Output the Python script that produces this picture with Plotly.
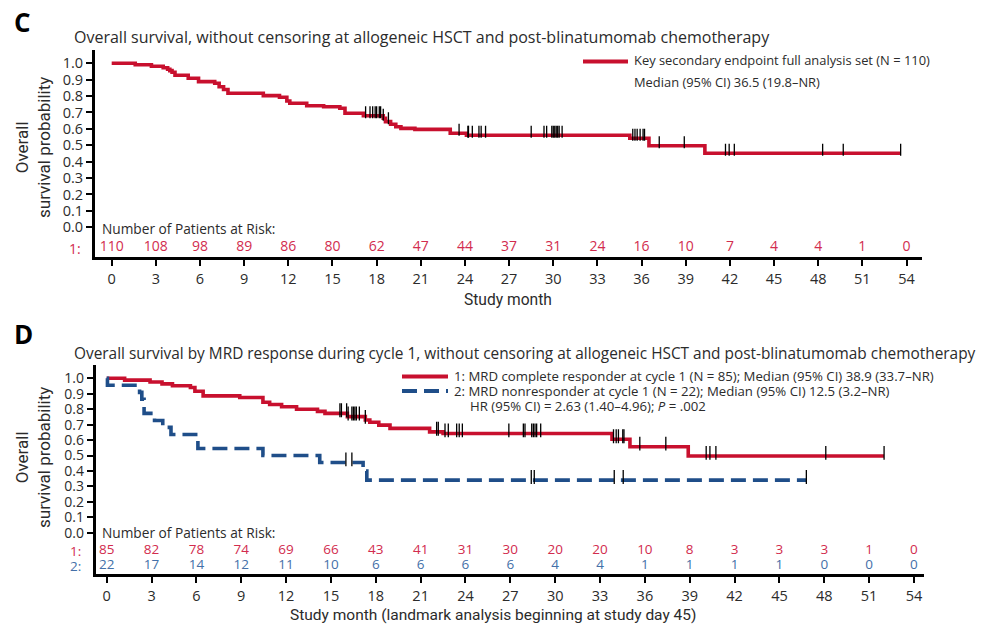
import plotly.graph_objects as go

W, H = 985, 632

RED = "#c8102e"
BLUE = "#1f4e89"
RISK_RED = "#d22c4e"
RISK_BLUE = "#4470a8"
TXT = "#2b2b2b"
FONT = "Open Sans"
COND = "Roboto"

# ---- Panel C: overall survival, full analysis set (Kaplan-Meier steps) ----
c_time = [0, 1.6, 2.7, 3.5, 3.8, 3.95, 4.1, 4.3, 5.2, 5.9,
          7.0, 7.3, 7.6, 7.9, 10.3, 11.4, 11.9, 12.1, 13.25, 14.4,
          15.5, 15.85, 17.1, 18.45, 18.6, 18.95, 19.3, 19.65, 20.6, 23.0,
          24.1, 35.2, 36.5, 40.3, 53.6]
c_surv = [1.0, 0.991, 0.982, 0.973, 0.964, 0.955, 0.945, 0.927, 0.909, 0.888,
          0.878, 0.857, 0.84, 0.817, 0.803, 0.793, 0.77, 0.756, 0.741, 0.735,
          0.726, 0.695, 0.68, 0.665, 0.644, 0.628, 0.613, 0.603, 0.597, 0.573,
          0.561, 0.543, 0.497, 0.451, 0.451]
c_cens = [17.25, 17.55, 17.73, 17.9, 18.0, 18.18, 18.27, 18.45, 18.8,
          23.6, 24.2, 24.24, 24.5, 24.95, 25.1, 25.4, 28.5, 29.37, 29.55,
          29.9, 30.0, 30.1, 30.2, 30.3, 30.4, 30.6, 35.4, 35.55, 35.7, 35.9,
          36.1, 36.2, 37.2, 38.9, 41.7, 41.95, 42.3, 48.3, 49.7, 53.6]

# ---- Panel D: by MRD response during cycle 1 ----
d1_time = [0, 1.2, 2.9, 3.7, 4.4, 5.6, 5.9, 6.45, 8.9, 10.45,
           10.9, 11.7, 12.7, 14.1, 14.6, 16.1, 17.3, 17.6, 18.2, 18.95,
           21.6, 22.5, 33.8, 35.0, 38.9, 52.0]
d1_surv = [1.0, 0.988, 0.976, 0.964, 0.952, 0.94, 0.916, 0.886, 0.876, 0.845,
           0.83, 0.816, 0.8, 0.786, 0.773, 0.752, 0.73, 0.715, 0.697, 0.676,
           0.653, 0.643, 0.605, 0.557, 0.497, 0.497]
d1_cens = [15.6, 15.7, 16.05, 16.15, 16.4, 16.5, 16.6, 16.7, 16.9, 17.3,
           22.07, 22.18, 22.63, 22.85, 23.41, 23.58, 23.79, 26.9, 27.87, 27.98,
           28.43, 28.54, 28.65, 28.76, 29.03, 33.9, 34.08, 34.23, 34.52, 34.6,
           35.66, 37.4, 40.1, 40.35, 40.75, 48.1, 52.0]

d2_time = [0, 0.05, 2.2, 2.35, 2.5, 3.2, 3.75, 4.3, 6.1, 10.45, 14.25, 17.15, 17.4, 46.8]
d2_surv = [1.0, 0.955, 0.909, 0.864, 0.773, 0.727, 0.682, 0.636, 0.545, 0.5,
           0.455, 0.40, 0.341, 0.341]
d2_cens = [16.0, 16.4, 28.4, 28.6, 33.95, 34.55, 46.8]

# ---- Number at risk ----
months = list(range(0, 55, 3))
c_risk = [110, 108, 98, 89, 86, 80, 62, 47, 44, 37, 31, 24, 16, 10, 7, 4, 4, 1, 0]
d1_risk = [85, 82, 78, 74, 69, 66, 43, 41, 31, 30, 20, 20, 10, 8, 3, 3, 3, 1, 0]
d2_risk = [22, 17, 14, 12, 11, 10, 6, 6, 6, 6, 4, 4, 1, 1, 1, 1, 0, 0, 0]

y_ticks = [i / 10 for i in range(11)]


def surv_at(times, survs, t):
    s = survs[0]
    for tt, ss in zip(times, survs):
        if tt <= t + 1e-9:
            s = ss
    return s


def censor_segments(times, survs, cens, below, above):
    xs, ys = [], []
    for t in cens:
        s = surv_at(times, survs, t)
        xs += [t, t, None]
        ys += [s - below, s + above, None]
    return xs, ys


def px(x):
    return x / W


def py(y):
    return 1 - y / H


fig = go.Figure()

# Panel C curve + censor ticks
fig.add_trace(go.Scatter(x=c_time, y=c_surv, mode="lines", line=dict(color=RED, width=3.6, shape="hv"),
                         xaxis="x", yaxis="y", hoverinfo="skip"))
cx, cy = censor_segments(c_time, c_surv, c_cens, 0.015, 0.058)
fig.add_trace(go.Scatter(x=cx, y=cy, mode="lines", line=dict(color="black", width=1.3),
                         xaxis="x", yaxis="y", hoverinfo="skip"))
fig.add_trace(go.Scatter(x=months, y=[-0.126] * len(months), mode="text",
                         text=[str(v) for v in c_risk], textfont=dict(family=FONT, size=14, color=RISK_RED),
                         xaxis="x", yaxis="y", cliponaxis=False, hoverinfo="skip"))

# Panel D curves + censor ticks
fig.add_trace(go.Scatter(x=d1_time, y=d1_surv, mode="lines", line=dict(color=RED, width=3.6, shape="hv"),
                         xaxis="x2", yaxis="y2", hoverinfo="skip"))
fig.add_trace(go.Scatter(x=d2_time, y=d2_surv, mode="lines",
                         line=dict(color=BLUE, width=3.6, shape="hv", dash="15px,7px"),
                         xaxis="x2", yaxis="y2", hoverinfo="skip"))
for t_, s_, c_ in [(d1_time, d1_surv, d1_cens), (d2_time, d2_surv, d2_cens)]:
    dx, dy = censor_segments(t_, s_, c_, 0.025, 0.065)
    fig.add_trace(go.Scatter(x=dx, y=dy, mode="lines", line=dict(color="black", width=1.3),
                             xaxis="x2", yaxis="y2", hoverinfo="skip"))
fig.add_trace(go.Scatter(x=months, y=[-0.115] * len(months), mode="text",
                         text=[str(v) for v in d1_risk], textfont=dict(family=FONT, size=13.5, color=RISK_RED),
                         xaxis="x2", yaxis="y2", cliponaxis=False, hoverinfo="skip"))
fig.add_trace(go.Scatter(x=months, y=[-0.216] * len(months), mode="text",
                         text=[str(v) for v in d2_risk], textfont=dict(family=FONT, size=13.5, color=RISK_BLUE),
                         xaxis="x2", yaxis="y2", cliponaxis=False, hoverinfo="skip"))


def axis_style(size):
    return dict(showline=True, linewidth=3, linecolor="black", ticks="outside", ticklen=6,
                tickwidth=2, tickcolor="black", showgrid=False, zeroline=False,
                tickfont=dict(family=FONT, size=size, color=TXT), fixedrange=True)


fig.update_layout(
    width=W, height=H, autosize=False,
    margin=dict(l=0, r=0, t=0, b=0),
    paper_bgcolor="white", plot_bgcolor="white",
    showlegend=False,
    xaxis=dict(domain=[px(95), px(921.7)], range=[-1.134, 55.03], tickvals=months, anchor="y", **axis_style(14.5)),
    yaxis=dict(domain=[py(257.3), py(50)], range=[-0.183, 1.081], tickvals=y_ticks,
               ticktext=[f"{v:.1f}" for v in y_ticks], anchor="x", **axis_style(14.5)),
    xaxis2=dict(domain=[px(95.7), px(924)], range=[-0.736, 54.67], tickvals=months, anchor="y2", **axis_style(14.5)),
    yaxis2=dict(domain=[py(574.3), py(365)], range=[-0.269, 1.086], tickvals=y_ticks,
                ticktext=[f"{v:.1f}" for v in y_ticks], anchor="x2", **axis_style(14)),
)

ann = []


def text(x, y, s, size=14, color=TXT, family=FONT, xanchor="left", angle=0, bold=False):
    ann.append(dict(x=px(x), y=py(y), xref="paper", yref="paper", text=f"<b>{s}</b>" if bold else s,
                    showarrow=False, xanchor=xanchor, yanchor="middle", textangle=angle,
                    font=dict(family=family, size=size, color=color)))


# Panel C text
text(12, 22, "C", size=26, color="black", bold=True)
text(72, 37, "Overall survival, without censoring at allogeneic HSCT and post-blinatumomab chemotherapy", size=16)
text(632, 60.5, "Key secondary endpoint full analysis set (N = 110)", size=12.9)
text(632, 81.5, "Median (95% CI) 36.5 (19.8–NR)", size=12.9)
text(33, 148, "Overall<br>survival probability", size=17, family=COND, xanchor="center", angle=-90)
text(100, 229, "Number of Patients at Risk:", size=13.7)
text(83, 248, "1:", size=14, color=RISK_RED, xanchor="right")
text(508, 300, "Study month", size=15.6, family=COND, xanchor="center")

# Panel D text
text(12, 334, "D", size=26, color="black", bold=True)
text(72, 353, "Overall survival by MRD response during cycle 1, without censoring at allogeneic HSCT and post-blinatumomab chemotherapy", size=15.4)
text(452, 376, "1: MRD complete responder at cycle 1 (N = 85); Median (95% CI) 38.9 (33.7–NR)", size=13.2)
text(452, 391, "2: MRD nonresponder at cycle 1 (N = 22); Median (95% CI) 12.5 (3.2–NR)", size=13.2)
text(468, 406, "HR (95% CI) = 2.63 (1.40–4.96); <i>P</i> = .002", size=13.2)
text(33, 458, "Overall<br>survival probability", size=17, family=COND, xanchor="center", angle=-90)
text(100, 532, "Number of Patients at Risk:", size=13.7)
text(83, 550.5, "1:", size=13.5, color=RISK_RED, xanchor="right")
text(83, 566, "2:", size=13.5, color=RISK_BLUE, xanchor="right")
text(493, 615, "Study month (landmark analysis beginning at study day 45)", size=15.5, family=COND, xanchor="center")

fig.update_layout(annotations=ann)

# Legend line samples
shapes = [
    dict(type="line", xref="paper", yref="paper", x0=px(583), x1=px(628), y0=py(61.5), y1=py(61.5),
         line=dict(color=RED, width=4)),
    dict(type="line", xref="paper", yref="paper", x0=px(402), x1=px(448), y0=py(376.5), y1=py(376.5),
         line=dict(color=RED, width=4)),
    dict(type="line", xref="paper", yref="paper", x0=px(402), x1=px(448), y0=py(391), y1=py(391),
         line=dict(color=BLUE, width=4, dash="15px,7px")),
]
fig.update_layout(shapes=shapes)

fig.write_html("out.html")
